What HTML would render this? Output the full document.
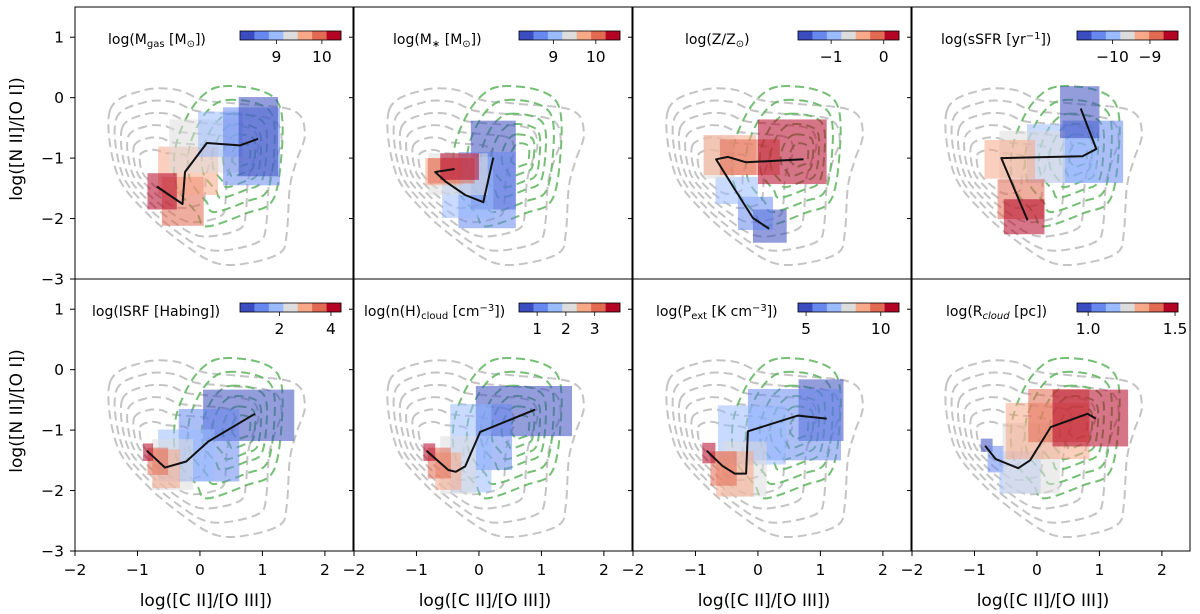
<!DOCTYPE html>
<html><head><meta charset="utf-8">
<style>
html,body{margin:0;padding:0;background:#fff;}
svg{display:block;font-family:"DejaVu Sans","Liberation Sans",sans-serif;}
</style></head>
<body>
<svg id="fig" width="1200" height="614" viewBox="0 0 1200 614" xmlns="http://www.w3.org/2000/svg"></svg>
<script>
// ---- data ----
const panelLabels = [
 'log(M<tspan font-size="10" dy="3">gas</tspan><tspan dy="-3"> [M</tspan><tspan font-size="10" dy="3">⊙</tspan><tspan dy="-3">])</tspan>',
 'log(M<tspan font-size="10" dy="3">∗</tspan><tspan dy="-3"> [M</tspan><tspan font-size="10" dy="3">⊙</tspan><tspan dy="-3">])</tspan>',
 'log(Z/Z<tspan font-size="10" dy="3">⊙</tspan><tspan dy="-3">)</tspan>',
 'log(sSFR [yr<tspan font-size="10" dy="-5">−1</tspan><tspan dy="5">])</tspan>',
 'log(ISRF [Habing])',
 'log(n(H)<tspan font-size="10" dy="3">cloud</tspan><tspan dy="-3"> [cm</tspan><tspan font-size="10" dy="-5">−3</tspan><tspan dy="5">])</tspan>',
 'log(P<tspan font-size="10" dy="3">ext</tspan><tspan dy="-3"> [K cm</tspan><tspan font-size="10" dy="-5">−3</tspan><tspan dy="5">])</tspan>',
 'log(R<tspan font-size="10" dy="3" font-style="italic">cloud</tspan><tspan dy="-3"> [pc])</tspan>'
];
const labelX = [33, 39, 52, 29, 17, 10, 23, 34];
const cbMin = [8.2, 8.19, -1.63, -10.95, 0.47, 0.37, 4.46, 0.936];
const cbMax = [10.42, 10.57, 0.29, -8.25, 4.39, 3.88, 11.22, 1.517];
const cbTicks = [[9,10],[9,10],[-1,0],[-10,-9],[2,4],[1,2,3],[5,10],[1.0,1.5]];
const cbTickLabels = [["9","10"],["9","10"],["−1","0"],["−10","−9"],["2","4"],["1","2","3"],["5","10"],["1.0","1.5"]];
const binColors = ["#3b4cc0","#6788ee","#9abbff","#dddddd","#f7a889","#e26952","#b40426"];
// rects: [x0,x1,y0,y1,bin]
const rects1 = [[-0.61,0.06,-2.12,-1.31,5],[-0.67,0.29,-1.61,-0.81,4],[-0.49,0.68,-1.24,-0.36,3],[-0.03,0.68,-0.98,-0.23,2],[0.37,1.28,-1.45,-0.16,1],[0.62,1.25,-1.3,0.01,0],[-0.84,-0.37,-1.85,-1.25,6]];
const rects2 = [[-0.13,0.59,-1.85,-0.38,0],[-0.33,0.59,-2.16,-0.9,1],[-0.59,0.23,-1.99,-0.98,2],[-0.81,0.14,-1.61,-0.92,3],[-0.86,-0.28,-1.45,-1.0,4],[-0.82,-0.07,-1.42,-1.0,5],[-0.62,0.0,-1.36,-0.92,6]];
const rects3 = [[-0.08,0.46,-2.4,-1.85,0],[-0.32,0.24,-2.19,-1.64,1],[-0.68,0.0,-1.76,-1.31,2],[-0.87,-0.37,-1.34,-0.62,3],[-0.87,-0.03,-1.28,-0.62,4],[-0.61,0.35,-1.28,-0.69,5],[0.0,1.1,-1.43,-0.36,6]];
const rects4 = [[0.41,1.38,-1.41,-0.38,1],[-0.16,0.97,-1.41,-0.44,2],[-0.6,0.45,-1.41,-0.55,3],[-0.84,-0.03,-1.34,-0.7,4],[-0.63,0.12,-2.01,-1.35,5],[-0.53,0.12,-2.26,-1.68,6],[0.37,1.0,-0.67,0.19,0]];
const rects5 = [[0.05,1.51,-1.18,-0.33,0],[-0.34,0.63,-1.85,-0.65,1],[-0.67,0.23,-1.85,-0.99,2],[-0.77,-0.11,-1.99,-1.15,3],[-0.76,-0.32,-1.96,-1.32,4],[-0.84,-0.51,-1.74,-1.29,5],[-0.91,-0.75,-1.51,-1.22,6]];
const rects6 = [[-0.05,1.49,-1.1,-0.27,0],[-0.05,0.53,-1.66,-0.57,1],[-0.46,0.2,-2.03,-0.57,2],[-0.62,-0.05,-2.06,-1.1,3],[-0.7,-0.28,-1.99,-1.37,4],[-0.82,-0.45,-1.8,-1.29,5],[-0.89,-0.7,-1.51,-1.22,6]];
const rects7 = [[0.65,1.37,-1.18,-0.16,0],[-0.16,1.33,-1.5,-0.32,1],[-0.64,0.45,-1.57,-0.59,2],[-0.57,0.14,-2.1,-1.19,3],[-0.67,-0.07,-2.1,-1.35,4],[-0.76,-0.34,-1.92,-1.35,5],[-0.89,-0.68,-1.55,-1.21,6]];
const rects8 = [[-0.9,-0.71,-1.36,-1.14,0],[-0.79,-0.53,-1.7,-1.26,1],[-0.6,0.06,-2.05,-1.35,2],[-0.55,0.37,-2.05,-0.88,3],[-0.5,0.84,-1.48,-0.55,4],[-0.14,0.84,-1.2,-0.32,5],[0.25,1.46,-1.27,-0.33,6]];
const allRects = [rects1,rects2,rects3,rects4,rects5,rects6,rects7,rects8];
const lineX1=[-0.69,-0.28,-0.24,0.11,0.64,0.93], lineY1=[-1.47,-1.76,-1.23,-0.75,-0.79,-0.68];
const lineX2=[-0.39,-0.7,-0.53,-0.22,0.07,0.23], lineY2=[-1.18,-1.23,-1.39,-1.61,-1.73,-0.99];
const lineX3=[0.18,-0.08,-0.4,-0.67,-0.48,-0.19,0.73], lineY3=[-2.17,-1.99,-1.47,-1.02,-0.98,-1.07,-1.02];
const lineX4=[-0.15,-0.57,0.73,0.95,0.7], lineY4=[-2.03,-1.0,-0.97,-0.85,-0.18];
const lineX5=[-0.85,-0.56,-0.22,0.13,0.88], lineY5=[-1.34,-1.62,-1.52,-1.19,-0.73];
const lineX6=[-0.84,-0.49,-0.37,-0.22,0.02,0.9], lineY6=[-1.34,-1.66,-1.69,-1.6,-1.03,-0.66];
const lineX7=[-0.82,-0.57,-0.37,-0.19,-0.16,0.64,1.1], lineY7=[-1.34,-1.59,-1.72,-1.72,-1.02,-0.76,-0.81];
const lineX8=[-0.83,-0.66,-0.3,-0.11,0.22,0.81,0.94], lineY8=[-1.26,-1.48,-1.63,-1.5,-0.95,-0.73,-0.81];
const linesX=[lineX1,lineX2,lineX3,lineX4,lineX5,lineX6,lineX7,lineX8];
const linesY=[lineY1,lineY2,lineY3,lineY4,lineY5,lineY6,lineY7,lineY8];
const grayOuterX=[-1.44,-0.91,-0.37,0.05,0.6,1.49,1.68,1.55,1.44,1.39,1.28,0.75,0.27,-0.21,-0.85,-1.33];
const grayOuterY=[-0.21,0.12,0.13,-0.04,-0.1,-0.21,-0.59,-1.03,-1.47,-2.24,-2.57,-2.74,-2.74,-2.46,-1.91,-1.25];
const grayScales=[1,0.85,0.7,0.55,0.4,0.25];
const greenOuterX=[0.37,0.96,1.28,1.31,1.17,0.75,0.11,-0.05,-0.37,-0.4,-0.21,0.05];
const greenOuterY=[0.19,0.12,-0.15,-0.87,-1.69,-1.91,-2.13,-1.91,-1.47,-0.87,-0.32,0.04];
const greenScales=[1,0.8,0.6,0.45,0.3,0.17];
const xTicks=[-2,-1,0,1,2], yTicks=[1,0,-1,-2,-3];
const xTickLabels=["−2","−1","0","1","2"], yTickLabels=["1","0","−1","−2","−3"];

// ---- layout ----
const NS="http://www.w3.org/2000/svg";
const svg=document.getElementById('fig');
const lefts=[75,354,633,912], tops=[7,279], PW=278, PH=272;
const XMIN=-2, XMAX=2.45, YMIN=-3, YMAX=1.5;
function mk(tag,attrs,parent){const e=document.createElementNS(NS,tag);for(const k in attrs)e.setAttribute(k,attrs[k]);(parent||svg).appendChild(e);return e;}
function smooth(pts){let d="";const n=pts.length;for(let i=0;i<n;i++){const p0=pts[(i-1+n)%n],p1=pts[i],p2=pts[(i+1)%n],p3=pts[(i+2)%n];if(i===0)d+="M"+p1[0].toFixed(1)+","+p1[1].toFixed(1);const c1=[p1[0]+(p2[0]-p0[0])/6,p1[1]+(p2[1]-p0[1])/6],c2=[p2[0]-(p3[0]-p1[0])/6,p2[1]-(p3[1]-p1[1])/6];d+="C"+c1[0].toFixed(1)+","+c1[1].toFixed(1)+" "+c2[0].toFixed(1)+","+c2[1].toFixed(1)+" "+p2[0].toFixed(1)+","+p2[1].toFixed(1);}return d+"Z";}

for(let p=0;p<8;p++){
  const L=lefts[p%4], T=tops[Math.floor(p/4)];
  const sx=x=>L+(x-XMIN)/(XMAX-XMIN)*PW;
  const sy=y=>T+(YMAX-y)/(YMAX-YMIN)*PH;
  const g=mk('g',{});
  
  
  const clipId='clip'+p;
  const cp=mk('clipPath',{id:clipId},g);mk('rect',{x:L,y:T,width:PW,height:PH},cp);
  const inner=mk('g',{'clip-path':'url(#'+clipId+')'},g);
  const gcx=-0.8, gcy=-1.2;
  grayScales.forEach((s,k)=>{
    const pts=grayOuterX.map((x,i)=>[sx(gcx+(x-gcx)*s),sy(gcy+(grayOuterY[i]-gcy)*s)]);
    const e=mk('path',{d:smooth(pts),fill:'none',stroke:'#c4c4c4','stroke-width':2,'stroke-dasharray':'9,5'},inner);
    
    
  });
  const ccx=0.7, ccy=-0.95;
  greenScales.forEach((s,k)=>{
    const pts=greenOuterX.map((x,i)=>[sx(ccx+(x-ccx)*s),sy(ccy+(greenOuterY[i]-ccy)*s)]);
    const e=mk('path',{d:smooth(pts),fill:'none',stroke:'#66b866','stroke-width':2,'stroke-dasharray':'9,5','stroke-opacity':0.9},inner);
    
    
  });
  allRects[p].forEach(r=>{
    const e=mk('rect',{x:sx(r[0]),y:sy(r[3]),width:sx(r[1])-sx(r[0]),height:sy(r[2])-sy(r[3]),fill:binColors[r[4]],'fill-opacity':0.55},inner);
    
    
  });
  const lx=linesX[p], ly=linesY[p];
  const ln=mk('polyline',{points:lx.map((x,i)=>sx(x).toFixed(1)+','+sy(ly[i]).toFixed(1)).join(' '),fill:'none',stroke:'#111','stroke-width':2,'stroke-linejoin':'round'},inner);
  
  
  const fr=mk('rect',{x:L,y:T,width:PW,height:PH,fill:'none',stroke:'#000','stroke-width':1},g);
  
  
  yTicks.forEach((v,i)=>{
    mk('line',{x1:L-5,x2:L,y1:sy(v),y2:sy(v),stroke:'#000','stroke-width':1},g);
    if(p%4===0){
      const t=mk('text',{x:L-11,y:sy(v)+5.5,'text-anchor':'end','font-size':15.5,fill:'#000'},g);
      t.textContent=yTickLabels[i];
      
      
    }
  });
  if(p>=4){
    xTicks.forEach((v,i)=>{
      mk('line',{x1:sx(v),x2:sx(v),y1:T+PH,y2:T+PH+5,stroke:'#000','stroke-width':1},g);
      const t=mk('text',{x:sx(v),y:T+PH+24,'text-anchor':'middle','font-size':15.5,fill:'#000'},g);
      t.textContent=xTickLabels[i];
      
      
    });
    const xl=mk('text',{x:L+PW/2-8,y:606,'text-anchor':'middle','font-size':17,fill:'#000'},g);
    xl.textContent='log([C II]/[O III])';
    
    
  }
  const bx=L+165, bw=101, by=T+24, bh=9;
  const cb=mk('g',{},g);
  
  
  binColors.forEach((c,i)=>mk('rect',{x:bx+i*bw/7,y:by,width:bw/7+0.3,height:bh,fill:c},cb));
  mk('rect',{x:bx,y:by,width:bw,height:bh,fill:'none',stroke:'#000','stroke-width':0.8},cb);
  cbTicks[p].forEach((v,i)=>{
    const tx=bx+(v-cbMin[p])/(cbMax[p]-cbMin[p])*bw;
    mk('line',{x1:tx,x2:tx,y1:by+bh,y2:by+bh+4,stroke:'#000','stroke-width':0.8},cb);
    const t=mk('text',{x:tx,y:by+bh+22,'text-anchor':'middle','font-size':15.5,fill:'#000'},cb);
    t.textContent=cbTickLabels[p][i];
    
    
  });
  const lb=mk('text',{x:L+labelX[p],y:T+37,'font-size':14,fill:'#000'},g);
  lb.innerHTML=panelLabels[p];
  
  
}
['y-axis-title-top','y-axis-title-bottom'].forEach((n,i)=>{
  const cy=tops[i]+PH/2-4;
  const t=mk('text',{x:22,y:cy,'text-anchor':'middle','font-size':17,fill:'#000',transform:'rotate(-90 22 '+cy+')'});
  t.textContent='log([N II]/[O I])';
  
  
});
</script>
</body></html>
